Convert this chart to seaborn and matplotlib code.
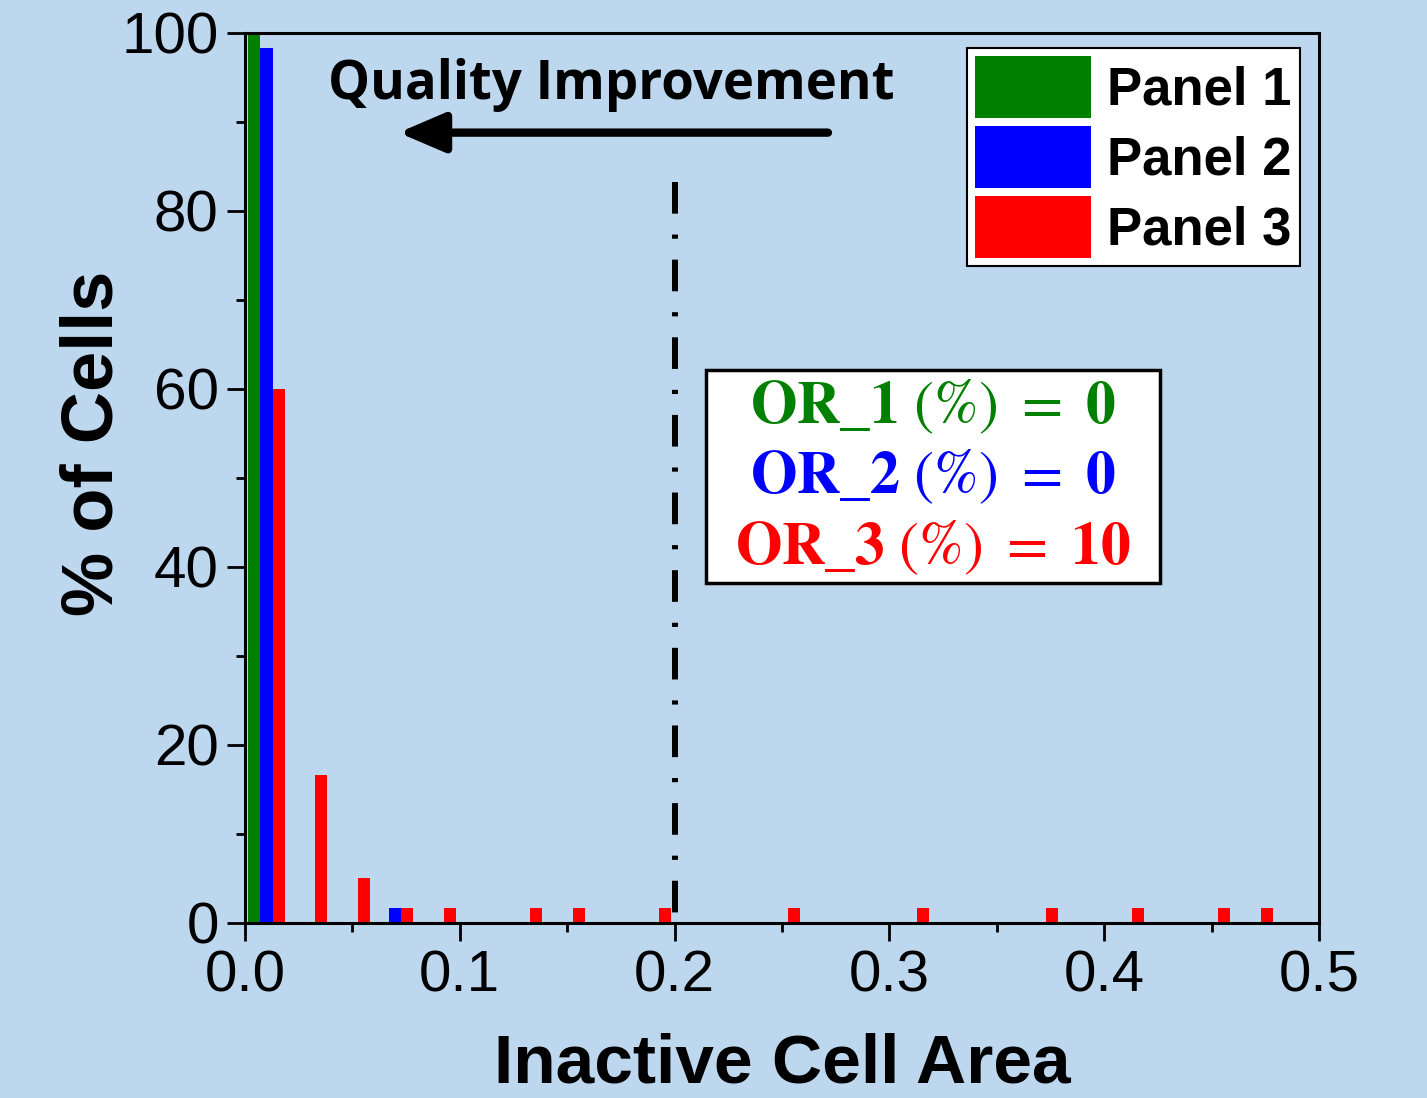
import numpy as np
import pandas as pd
import matplotlib
matplotlib.use("Agg")
import matplotlib.pyplot as plt
import seaborn as sns
from matplotlib.patches import Rectangle, Patch
from matplotlib.ticker import MultipleLocator, FormatStrFormatter

# ---- data (bin centers of inactive cell area, % of cells) ----
panel1_area = [0.01]
panel1_pct = [100.0]
panel2_area = [0.01, 0.07]
panel2_pct = [98.33, 1.67]
panel3_area = [0.01, 0.03, 0.05, 0.07, 0.09, 0.13, 0.15, 0.19, 0.25, 0.31, 0.37, 0.41, 0.45, 0.47]
panel3_pct = [60.0, 16.67, 5.0, 1.67, 1.67, 1.67, 1.67, 1.67, 1.67, 1.67, 1.67, 1.67, 1.67, 1.67]
panel_names = ["Panel 1", "Panel 2", "Panel 3"]
or_labels = ["OR\\_1", "OR\\_2", "OR\\_3"]
or_values = ["0", "0", "10"]
threshold = 0.2

colors = ["#008000", "#0000FF", "#FF0000"]
bg = "#BDD7EE"

df = pd.concat([
    pd.DataFrame({"area": panel1_area, "pct": panel1_pct, "panel": panel_names[0]}),
    pd.DataFrame({"area": panel2_area, "pct": panel2_pct, "panel": panel_names[1]}),
    pd.DataFrame({"area": panel3_area, "pct": panel3_pct, "panel": panel_names[2]}),
], ignore_index=True)

sns.set_theme(style="ticks")
plt.rcParams["font.family"] = ["Liberation Sans", "DejaVu Sans"]
plt.rcParams["mathtext.fontset"] = "stix"
plt.rcParams["text.color"] = "black"
plt.rcParams["axes.labelcolor"] = "black"
plt.rcParams["xtick.color"] = "black"
plt.rcParams["ytick.color"] = "black"

fig = plt.figure(figsize=(14.27, 10.98), dpi=100, facecolor=bg)
ax = fig.add_axes([0.1717, 0.1594, 0.7526, 0.8106])
ax.set_facecolor(bg)

sns.histplot(data=df, x="area", weights="pct", hue="panel", hue_order=panel_names,
             palette=colors, binwidth=0.02, binrange=(0, 0.5), multiple="dodge",
             shrink=0.84, alpha=1, linewidth=0, stat="count", legend=False, ax=ax)

ax.set_xlim(0, 0.5)
ax.set_ylim(0, 100)
ax.xaxis.set_major_locator(MultipleLocator(0.1))
ax.xaxis.set_minor_locator(MultipleLocator(0.05))
ax.yaxis.set_major_locator(MultipleLocator(20))
ax.yaxis.set_minor_locator(MultipleLocator(10))
ax.xaxis.set_major_formatter(FormatStrFormatter("%.1f"))
ax.tick_params(axis="both", which="major", direction="out", length=13, width=2,
               labelsize=42, color="black", labelcolor="black", pad=6)
ax.tick_params(axis="both", which="minor", direction="out", length=6.5, width=2, color="black")
for s in ax.spines.values():
    s.set_visible(True)
    s.set_color("black")
    s.set_linewidth(2.2)

ax.set_xlabel("Inactive Cell Area", fontsize=50, fontweight="bold", labelpad=21)
ax.set_ylabel("% of Cells", fontsize=52, fontweight="bold")
ax.yaxis.set_label_coords(-0.109, 0.539)

# threshold line (drawn top to bottom)
ax.plot([threshold, threshold], [83.2, 0], color="black", lw=4.3,
        dashes=(5.3, 3.5, 0.7, 3.5), dash_capstyle="butt", zorder=3)

# quality improvement arrow & text
ax.annotate("", xy=(0.0715, 88.8), xytext=(0.2714, 88.8),
            arrowprops=dict(arrowstyle="-|>,head_length=1.4,head_width=0.6", lw=6,
                            color="black", shrinkA=0, shrinkB=0, mutation_scale=20))
ax.text(0.1704, 94.2, "Quality Improvement", fontsize=38, fontweight="bold",
        family=["Open Sans", "DejaVu Sans"], ha="center", va="center", color="black")

# legend
handles = [Patch(facecolor=c, edgecolor="none") for c in colors]
leg = ax.legend(handles, panel_names, loc="upper right", bbox_to_anchor=(0.982, 0.983),
                prop={"family": "Liberation Sans", "weight": "bold", "size": 38},
                handlelength=2.2, handleheight=1.42, labelspacing=0.16, handletextpad=0.3,
                borderpad=0.15, borderaxespad=0.0, frameon=True, fancybox=False)
leg.get_frame().set_edgecolor("black")
leg.get_frame().set_linewidth(1.5)
leg.get_frame().set_facecolor("white")
leg.get_frame().set_alpha(1)

# OR box
ax.add_patch(Rectangle((0.2146, 38.2), 0.2114, 23.9, facecolor="white", edgecolor="black",
                       lw=2.5, zorder=4))
for lab, val, yy, c in zip(or_labels, or_values, [58.0, 50.1, 42.2], colors):
    ax.text(0.3203, yy, rf"$\mathbf{{{lab}}}\ \mathrm{{(\%)}}\ \mathrm{{=}}\ \mathbf{{{val}}}$",
            fontsize=43, color=c, ha="center", va="center", zorder=5)

fig.savefig("out.png", dpi=100, facecolor=bg)
